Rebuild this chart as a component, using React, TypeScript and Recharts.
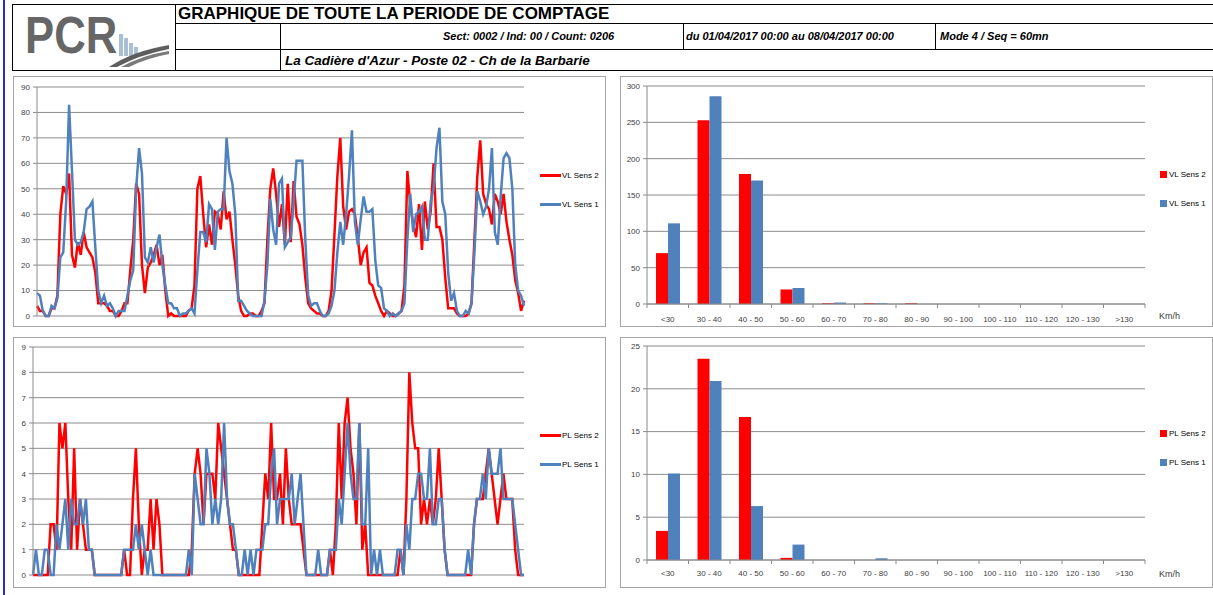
import React from "react";
import { LineChart, Line, BarChart, Bar, XAxis, YAxis, CartesianGrid } from "recharts";

// hourly counts, 01/04/2017 00:00 -> 08/04/2017 00:00 (7 days x 24h)
const vlSens2 = [
  4, 2, 2, 0, 0, 3, 3, 8, 40, 51, 48, 56, 24, 19, 29, 24, 33, 27, 25, 23, 17, 5, 5, 5,
  4, 2, 2, 0, 0, 2, 5, 5, 18, 30, 52, 48, 20, 9, 19, 21, 24, 28, 20, 24, 10, 0, 1, 0,
  0, 0, 0, 0, 2, 3, 12, 50, 55, 40, 27, 36, 28, 41, 40, 34, 49, 38, 41, 30, 20, 8, 2, 0,
  0, 1, 1, 0, 0, 2, 5, 30, 50, 58, 48, 35, 44, 28, 52, 29, 53, 39, 36, 28, 15, 5, 3, 2,
  1, 1, 0, 0, 2, 10, 32, 55, 70, 43, 34, 41, 42, 40, 31, 20, 25, 27, 13, 12, 8, 5, 2, 0,
  2, 1, 0, 0, 1, 2, 12, 57, 44, 36, 31, 44, 26, 45, 34, 41, 60, 35, 35, 30, 15, 3, 3, 3,
  1, 0, 0, 0, 1, 5, 30, 55, 69, 48, 44, 42, 36, 48, 45, 40, 48, 37, 30, 24, 14, 9, 2, 6,
];
const vlSens1 = [
  9, 8, 2, 0, 0, 4, 3, 7, 23, 25, 45, 83, 57, 30, 28, 29, 33, 42, 43, 45, 27, 10, 5, 8,
  4, 5, 3, 0, 2, 2, 2, 8, 14, 18, 50, 66, 56, 23, 21, 27, 21, 27, 32, 20, 12, 5, 5, 3,
  3, 0, 1, 1, 2, 3, 1, 18, 33, 33, 29, 44, 42, 26, 41, 42, 42, 70, 57, 52, 40, 6, 6, 4,
  2, 1, 0, 0, 0, 0, 6, 20, 46, 34, 28, 52, 54, 27, 29, 31, 45, 61, 61, 61, 30, 8, 4, 5,
  5, 2, 0, 0, 1, 4, 10, 25, 37, 28, 40, 55, 73, 37, 28, 38, 47, 41, 41, 42, 22, 12, 11, 3,
  2, 0, 1, 0, 1, 2, 5, 30, 48, 33, 40, 41, 43, 30, 30, 45, 50, 66, 74, 45, 40, 17, 6, 9,
  2, 0, 0, 2, 1, 5, 25, 49, 45, 40, 43, 50, 66, 33, 28, 47, 62, 64, 62, 50, 20, 10, 8, 4,
];
const plSens2 = [
  0, 0, 0, 0, 0, 0, 2, 2, 1, 6, 5, 6, 3, 1, 5, 1, 3, 2, 1, 1, 1, 0, 0, 0,
  0, 0, 0, 0, 0, 0, 0, 1, 0, 0, 3, 5, 2, 0, 1, 1, 3, 1, 3, 2, 0, 0, 0, 0,
  0, 0, 0, 0, 0, 0, 1, 4, 5, 4, 2, 4, 4, 4, 3, 6, 5, 4, 3, 2, 1, 1, 0, 0,
  0, 0, 0, 0, 0, 0, 2, 4, 3, 6, 3, 3, 4, 2, 5, 3, 2, 2, 2, 2, 1, 0, 0, 0,
  0, 0, 0, 0, 0, 1, 0, 2, 6, 3, 6, 7, 5, 4, 2, 6, 1, 2, 0, 0, 0, 0, 0, 0,
  0, 0, 0, 0, 0, 1, 0, 3, 8, 6, 5, 5, 2, 3, 2, 3, 2, 3, 5, 3, 1, 0, 0, 0,
  0, 0, 0, 0, 0, 0, 2, 3, 3, 3, 4, 5, 4, 3, 2, 3, 4, 3, 3, 3, 1, 0, 0, 0,
];
const plSens1 = [
  0, 1, 0, 0, 1, 1, 0, 0, 2, 1, 2, 3, 1, 3, 2, 2, 3, 2, 3, 1, 1, 0, 0, 0,
  0, 0, 0, 0, 0, 0, 0, 1, 1, 1, 1, 2, 1, 2, 1, 0, 1, 0, 0, 0, 0, 0, 0, 0,
  0, 0, 0, 0, 0, 1, 0, 4, 3, 2, 2, 5, 4, 2, 3, 2, 3, 6, 3, 2, 2, 1, 0, 0,
  1, 0, 1, 0, 1, 1, 1, 2, 2, 4, 5, 2, 3, 3, 3, 3, 4, 2, 3, 4, 2, 0, 0, 0,
  0, 1, 0, 0, 0, 1, 1, 1, 3, 2, 4, 6, 4, 3, 3, 6, 2, 2, 5, 0, 1, 0, 1, 0,
  0, 0, 0, 0, 1, 1, 0, 2, 1, 3, 3, 4, 4, 3, 3, 5, 2, 2, 3, 3, 1, 0, 0, 0,
  0, 0, 0, 0, 1, 0, 2, 3, 3, 4, 3, 5, 4, 4, 4, 5, 3, 3, 3, 3, 2, 1, 0, 0,
];

// speed classes
const speedClasses = ["<30", "30 - 40", "40 - 50", "50 - 60", "60 - 70", "70 - 80", "80 - 90", "90 - 100", "100 - 110", "110 - 120", "120 - 130", ">130"];
const vlSpeed2 = [70, 253, 179, 20, 1, 1, 1, 0, 0, 0, 0, 0];
const vlSpeed1 = [111, 286, 170, 22, 2, 1, 0, 0, 0, 0, 0, 0];
const plSpeed2 = [3.4, 23.5, 16.7, 0.25, 0, 0, 0, 0, 0, 0, 0, 0];
const plSpeed1 = [10.1, 20.9, 6.3, 1.8, 0, 0.2, 0, 0, 0, 0, 0, 0];

const vlLineTicks = [0, 10, 20, 30, 40, 50, 60, 70, 80, 90];
const plLineTicks = [0, 1, 2, 3, 4, 5, 6, 7, 8, 9];
const vlBarTicks = [0, 50, 100, 150, 200, 250, 300];
const plBarTicks = [0, 5, 10, 15, 20, 25];

const FONT = '"Liberation Sans", Arial, sans-serif';
const GRID = "#8c8c8c";
const TEXT = "#404040";
const RED = "#ff0000";
const BLUE = "#4f81bd";
const BAND = 498 / speedClasses.length;

const vlRows = vlSens2.map((v, i) => ({ h: i, s2: v, s1: vlSens1[i] }));
const plRows = plSens2.map((v, i) => ({ h: i, s2: v, s1: plSens1[i] }));
const vlBars = speedClasses.map((c, i) => ({ cat: c, s2: vlSpeed2[i], s1: vlSpeed1[i] }));
const plBars = speedClasses.map((c, i) => ({ cat: c, s2: plSpeed2[i], s1: plSpeed1[i] }));

const tickStyle = { fontSize: 8, fill: TEXT, fontFamily: FONT };

function Frame({ left, top, width, height }: any) {
  return (
    <div
      style={{
        position: "absolute",
        left,
        top,
        width,
        height,
        border: "1px solid #a6a6a6",
        boxSizing: "border-box",
      }}
    />
  );
}

function Legend({ left, top, items, square }: any) {
  return (
    <div style={{ position: "absolute", left, top, fontFamily: FONT, fontSize: 8, color: "#000" }}>
      {items.map((it: any, i: number) => (
        <div
          key={it.label}
          style={{ position: "absolute", top: i * 29 - 6, left: 0, height: 12, display: "flex", alignItems: "center", whiteSpace: "nowrap" }}
        >
          {square ? (
            <span style={{ display: "inline-block", width: 7, height: 7, background: it.color, marginRight: 2 }} />
          ) : (
            <span style={{ display: "inline-block", width: 21, height: 3, background: it.color, marginRight: 1 }} />
          )}
          {it.label}
        </div>
      ))}
    </div>
  );
}

function HourChart({ rows, ticks, max, axisWidth, margin }: any) {
  return (
    <LineChart width={593} height={251} data={rows} margin={margin}>
      <CartesianGrid vertical={false} stroke={GRID} />
      <XAxis dataKey="h" hide />
      <YAxis
        width={axisWidth}
        domain={[0, max]}
        ticks={ticks}
        interval={0}
        tick={tickStyle}
        tickSize={4}
        tickMargin={3}
        tickLine={{ stroke: GRID }}
        axisLine={{ stroke: GRID }}
      />
      <Line type="linear" dataKey="s2" stroke={RED} strokeWidth={2.5} dot={false} isAnimationActive={false} />
      <Line type="linear" dataKey="s1" stroke={BLUE} strokeWidth={2.5} dot={false} isAnimationActive={false} />
    </LineChart>
  );
}

function makeCatTick(labelDy: number) {
  return (props: any) => {
    const { x, y, payload } = props;
    const last = payload.value === speedClasses[speedClasses.length - 1];
    return (
      <g>
        <line x1={x - BAND / 2} y1={y} x2={x - BAND / 2} y2={y + 4} stroke={GRID} />
        {last && <line x1={x + BAND / 2} y1={y} x2={x + BAND / 2} y2={y + 4} stroke={GRID} />}
        <text x={x} y={y + labelDy} textAnchor="middle" fontSize={8} fill={TEXT} fontFamily={FONT}>
          {payload.value}
        </text>
      </g>
    );
  };
}

function SpeedChart({ rows, ticks, max, axisHeight, marginTop, labelDy }: any) {
  return (
    <BarChart width={593} height={251} data={rows} margin={{ top: marginTop, right: 68, bottom: 0, left: 0 }} barGap={0}>
      <CartesianGrid vertical={false} stroke={GRID} />
      <XAxis
        dataKey="cat"
        height={axisHeight}
        interval={0}
        tickLine={false}
        tickSize={0}
        tickMargin={0}
        axisLine={{ stroke: GRID }}
        tick={makeCatTick(labelDy)}
        label={{ value: "Km/h", position: "right", offset: 14, fontSize: 9, fill: TEXT, fontFamily: FONT }}
      />
      <YAxis
        width={27}
        domain={[0, max]}
        ticks={ticks}
        interval={0}
        tick={tickStyle}
        tickSize={4}
        tickMargin={3}
        tickLine={{ stroke: GRID }}
        axisLine={{ stroke: GRID }}
      />
      <Bar dataKey="s2" fill={RED} barSize={12} isAnimationActive={false} />
      <Bar dataKey="s1" fill={BLUE} barSize={12} isAnimationActive={false} />
    </BarChart>
  );
}

function Logo() {
  return (
    <svg width={160} height={64} style={{ position: "absolute", left: 13, top: 5 }}>
      <text x={12} y={48} fontSize={52} fontWeight="bold" fill="#666666" fontFamily={FONT} transform="translate(12 0) scale(0.84 1) translate(-12 0)">
        PCR
      </text>
      <rect x={106} y={29} width={4} height={22} fill="#a9c0d4" />
      <rect x={111} y={33} width={4} height={18} fill="#a9c0d4" />
      <rect x={116} y={38} width={4} height={13} fill="#a9c0d4" />
      <rect x={121} y={42} width={4} height={9} fill="#a9c0d4" />
      <path d="M96 62 Q120 46 156 40 L156 44 Q126 50 104 62 Z" fill="#5e5e5e" />
      <path d="M108 62 Q130 50 156 46 L156 49 Q134 53 116 62 Z" fill="#7a7a7a" />
    </svg>
  );
}

const hLine = (left: number, top: number, width: number) => (
  <div style={{ position: "absolute", left, top, width, height: 1, background: "#000" }} />
);
const vLine = (left: number, top: number, height: number) => (
  <div style={{ position: "absolute", left, top, width: 1, height, background: "#000" }} />
);

export default function App() {
  const hdr = { position: "absolute" as const, fontFamily: FONT, color: "#000", whiteSpace: "nowrap" as const };
  return (
    <div style={{ position: "absolute", left: 0, top: 0, width: 1213, height: 595, background: "#fff", overflow: "hidden" }}>
      <div style={{ position: "absolute", left: 3, top: 0, width: 2, height: 595, background: "#2a2ad2" }} />

      {/* header table */}
      {hLine(12, 4, 1201)}
      {hLine(175, 23, 1038)}
      {hLine(175, 49, 1038)}
      {hLine(12, 70, 1201)}
      {vLine(12, 4, 67)}
      {vLine(175, 4, 67)}
      {vLine(280, 23, 48)}
      {vLine(683, 23, 27)}
      {vLine(935, 23, 27)}
      <Logo />
      <div style={{ ...hdr, left: 178, top: 4, height: 19, lineHeight: "20px", fontSize: 17, fontWeight: "bold" }}>
        GRAPHIQUE DE TOUTE LA PERIODE DE COMPTAGE
      </div>
      <div style={{ ...hdr, left: 443, top: 24, lineHeight: "25px", fontSize: 11, fontWeight: "bold", fontStyle: "italic" }}>
        Sect: 0002 / Ind: 00 / Count: 0206
      </div>
      <div style={{ ...hdr, left: 686, top: 24, lineHeight: "25px", fontSize: 11, fontWeight: "bold", fontStyle: "italic" }}>
        du 01/04/2017 00:00 au 08/04/2017 00:00
      </div>
      <div style={{ ...hdr, left: 940, top: 24, lineHeight: "25px", fontSize: 11, fontWeight: "bold", fontStyle: "italic" }}>
        Mode 4 / Seq = 60mn
      </div>
      <div style={{ ...hdr, left: 285, top: 50, lineHeight: "21px", fontSize: 13.5, fontWeight: "bold", fontStyle: "italic" }}>
        La Cadière d'Azur - Poste 02 - Ch de la Barbarie
      </div>

      {/* VL hourly */}
      <Frame left={13} top={76} width={593} height={251} />
      <div style={{ position: "absolute", left: 13, top: 76 }}>
        <HourChart rows={vlRows} ticks={vlLineTicks} max={90} axisWidth={24} margin={{ top: 11, right: 82, bottom: 11, left: 0 }} />
      </div>
      <Legend left={540} top={175} items={[{ label: "VL Sens 2", color: RED }, { label: "VL Sens 1", color: BLUE }]} />

      {/* VL speeds */}
      <Frame left={620} top={76} width={593} height={251} />
      <div style={{ position: "absolute", left: 620, top: 76 }}>
        <SpeedChart rows={vlBars} ticks={vlBarTicks} max={300} axisHeight={23} marginTop={10} labelDy={18} />
      </div>
      <Legend left={1160} top={174} square items={[{ label: "VL Sens 2", color: RED }, { label: "VL Sens 1", color: BLUE }]} />

      {/* PL hourly */}
      <Frame left={13} top={337} width={593} height={251} />
      <div style={{ position: "absolute", left: 13, top: 337 }}>
        <HourChart rows={plRows} ticks={plLineTicks} max={9} axisWidth={20} margin={{ top: 10, right: 82, bottom: 13, left: 0 }} />
      </div>
      <Legend left={540} top={435} items={[{ label: "PL Sens 2", color: RED }, { label: "PL Sens 1", color: BLUE }]} />

      {/* PL speeds */}
      <Frame left={620} top={337} width={593} height={251} />
      <div style={{ position: "absolute", left: 620, top: 337 }}>
        <SpeedChart rows={plBars} ticks={plBarTicks} max={25} axisHeight={28} marginTop={9} labelDy={16} />
      </div>
      <Legend left={1160} top={433} square items={[{ label: "PL Sens 2", color: RED }, { label: "PL Sens 1", color: BLUE }]} />
    </div>
  );
}
